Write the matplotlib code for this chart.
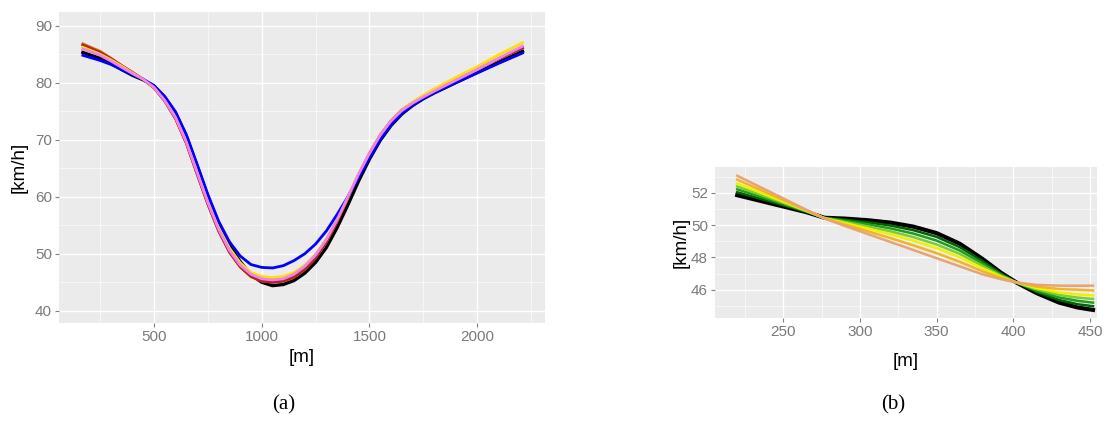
# Speed profiles along the curve: (a) full section, (b) detail 220-452 m.

import matplotlib
matplotlib.use("Agg")
import matplotlib.pyplot as plt
from matplotlib.ticker import MultipleLocator

# ---- panel (a) data ----
dist_a = [170, 250, 300, 350, 400, 450, 500, 550, 600, 650, 700, 750, 800,
          850, 900, 950, 1000, 1050, 1100, 1150, 1200, 1250, 1300, 1350,
          1400, 1450, 1500, 1550, 1600, 1650, 1700, 1750, 1800, 1900, 2000,
          2100, 2210]

speed_black = [85.3, 84.3, 83.4, 82.3, 81.3, 80.5, 79.4, 77.4, 74.6, 70.6,
               65.4, 60.0, 55.2, 51.5, 48.6, 46.3, 45.0, 44.4, 44.6, 45.3,
               46.6, 48.5, 51.1, 54.6, 58.6, 62.8, 66.6, 69.9, 72.5, 74.5,
               76.0, 77.2, 78.2, 80.0, 81.8, 83.6, 85.5]
speed_blue = [84.8, 83.9, 83.2, 82.3, 81.4, 80.6, 79.5, 77.6, 74.9, 70.9,
              65.7, 60.4, 55.7, 52.1, 49.6, 48.1, 47.6, 47.5, 47.9, 48.8,
              50.0, 51.7, 54.0, 56.9, 60.0, 63.4, 66.8, 70.0, 72.6, 74.6,
              76.0, 77.2, 78.2, 80.0, 81.7, 83.4, 85.2]
speed_yellow = [86.2, 85.0, 84.0, 82.9, 81.7, 80.6, 79.2, 77.0, 74.0, 69.8,
                64.5, 59.2, 54.6, 51.0, 48.4, 46.7, 46.0, 45.8, 46.0, 46.7,
                48.0, 49.9, 52.6, 56.1, 60.0, 64.0, 67.6, 70.8, 73.3, 75.2,
                76.6, 77.8, 78.9, 80.9, 82.8, 84.9, 87.0]
speed_orange = [86.8, 85.5, 84.3, 83.0, 81.8, 80.6, 79.1, 76.8, 73.7, 69.4,
                64.0, 58.7, 54.0, 50.3, 47.7, 46.0, 45.2, 45.0, 45.2, 45.9,
                47.3, 49.3, 52.1, 55.7, 59.8, 63.9, 67.6, 70.8, 73.3, 75.2,
                76.5, 77.6, 78.6, 80.4, 82.3, 84.2, 86.1]
speed_red = [86.6, 85.3, 84.2, 83.0, 81.8, 80.6, 79.1, 76.8, 73.7, 69.4,
             64.0, 58.7, 54.0, 50.3, 47.7, 46.0, 45.2, 45.0, 45.2, 45.9,
             47.3, 49.3, 52.1, 55.7, 59.8, 63.9, 67.6, 70.8, 73.3, 75.2,
             76.5, 77.6, 78.6, 80.4, 82.3, 84.2, 86.1]
speed_pink = [85.9, 84.8, 83.8, 82.7, 81.6, 80.6, 79.2, 76.9, 73.9, 69.6,
              64.3, 59.0, 54.3, 50.6, 48.0, 46.4, 45.6, 45.4, 45.6, 46.4,
              47.8, 49.8, 52.5, 56.0, 60.0, 64.0, 67.6, 70.8, 73.3, 75.1,
              76.4, 77.5, 78.5, 80.4, 82.3, 84.3, 86.4]

# ---- panel (b) data ----
dist_b = [220, 235, 250, 265, 277, 290, 305, 320, 335, 350, 365, 380, 392,
          402, 415, 430, 442, 452]

b_black = [51.85, 51.5, 51.15, 50.8, 50.45, 50.4, 50.3, 50.15, 49.9, 49.5,
           48.85, 47.9, 47.05, 46.45, 45.8, 45.2, 44.9, 44.75]
b_darkgreen = [52.03, 51.63, 51.23, 50.82, 50.44, 50.33, 50.17, 49.97, 49.68,
               49.27, 48.64, 47.76, 46.99, 46.45, 45.88, 45.36, 45.1, 44.98]
b_green = [52.21, 51.76, 51.3, 50.85, 50.44, 50.27, 50.05, 49.79, 49.47,
           49.04, 48.43, 47.62, 46.93, 46.45, 45.95, 45.52, 45.31, 45.2]
b_lightgreen = [52.39, 51.88, 51.38, 50.87, 50.43, 50.2, 49.92, 49.61, 49.25,
                48.8, 48.22, 47.47, 46.87, 46.45, 46.03, 45.67, 45.51, 45.43]
b_yellow = [52.57, 52.01, 51.45, 50.89, 50.42, 50.13, 49.79, 49.43, 49.03,
            48.57, 48.01, 47.33, 46.81, 46.45, 46.1, 45.83, 45.71, 45.65]
b_gold = [52.81, 52.18, 51.55, 50.92, 50.41, 50.04, 49.62, 49.19, 48.74,
          48.26, 47.73, 47.14, 46.73, 46.45, 46.2, 46.04, 46.0, 45.95]
b_tan = [53.05, 52.35, 51.65, 50.95, 50.4, 49.95, 49.45, 48.95, 48.45, 47.95,
         47.45, 46.95, 46.65, 46.45, 46.3, 46.25, 46.25, 46.25]


def gg_style(ax, fs):
    # grey panel, white grid, no frame (ggplot2 look)
    ax.set_facecolor("#EBEBEB")
    for s in ax.spines.values():
        s.set_visible(False)
    ax.grid(which="major", color="white", linewidth=1.0, zorder=0)
    ax.grid(which="minor", color="white", linewidth=0.5, alpha=0.8, zorder=0)
    ax.set_axisbelow(True)
    ax.tick_params(which="major", length=3, width=0.8, color="#808080",
                   labelcolor="#7A7A7A", labelsize=fs, pad=2)
    ax.tick_params(which="minor", length=0)


plt.rcParams["font.family"] = ["Liberation Sans", "DejaVu Sans"]

fig = plt.figure(figsize=(11.08, 4.21), dpi=100)

# (a)
ax = fig.add_axes([0.0532, 0.2335, 0.4386, 0.738])
gg_style(ax, 11)
ax.plot(dist_a, speed_black, color="black", lw=2.4)
ax.plot(dist_a, speed_orange, color="#D2691E", lw=2.0)
ax.plot(dist_a, speed_red, color="#B22222", lw=2.0)
ax.plot(dist_a, speed_yellow, color="#FFE000", lw=2.0)
ax.plot(dist_a, speed_blue, color="#0000FF", lw=2.0)
ax.plot(dist_a, speed_pink, color="#EE82EE", lw=2.0)
ax.set_xlim(59, 2314)
ax.set_ylim(37.9, 92.4)
ax.xaxis.set_major_locator(MultipleLocator(500))
ax.xaxis.set_minor_locator(MultipleLocator(250))
ax.yaxis.set_major_locator(MultipleLocator(10))
ax.yaxis.set_minor_locator(MultipleLocator(5))
ax.set_xlabel("[m]", fontsize=13.5, labelpad=4)
ax.set_ylabel("[km/h]", fontsize=13.5, labelpad=5)

# (b)
bx = fig.add_axes([0.6453, 0.2439, 0.3445, 0.3601])
gg_style(bx, 11)
b_series = [b_black, b_darkgreen, b_green, b_lightgreen, b_yellow, b_gold,
            b_tan]
b_colors = ["#000000", "#006400", "#1E9E1E", "#7CCD30", "#F0F000",
            "#F0B428", "#E8A470"]
for vals, col in zip(b_series, b_colors):
    bx.plot(dist_b, vals, color=col, lw=3.0 if col == "#000000" else 1.8)
bx.set_xlim(205.5, 454.4)
bx.set_ylim(44.23, 53.61)
bx.xaxis.set_major_locator(MultipleLocator(50))
bx.xaxis.set_minor_locator(MultipleLocator(25))
bx.yaxis.set_major_locator(MultipleLocator(2))
bx.yaxis.set_minor_locator(MultipleLocator(1))
bx.set_xlabel("[m]", fontsize=13.5, labelpad=10)
bx.set_ylabel("[km/h]", fontsize=13.5, labelpad=1)

for txt, xc in (("(a)", 0.2563), ("(b)", 0.806)):
    fig.text(xc, 0.038, txt, ha="center", va="center", fontsize=15,
             family=["Liberation Serif", "DejaVu Serif"])

fig.savefig("out.png", dpi=100)
